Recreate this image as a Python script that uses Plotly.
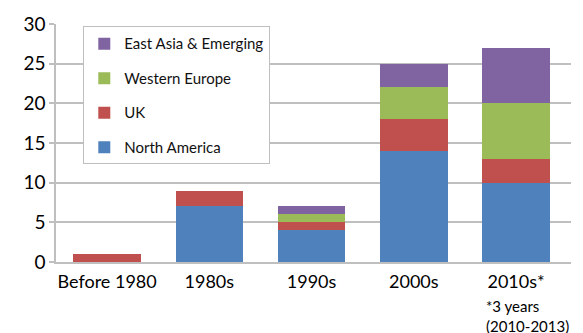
import plotly.graph_objects as go

categories = ["Before 1980", "1980s", "1990s", "2000s", "2010s*"]
north_america = [0, 7, 4, 14, 10]
uk = [1, 2, 1, 4, 3]
western_europe = [0, 0, 1, 4, 7]
east_asia = [0, 0, 1, 3, 7]
footnote = "*3 years<br>(2010-2013)"

series = [
    ("North America", north_america, "#4F81BD"),
    ("UK", uk, "#C0504D"),
    ("Western Europe", western_europe, "#9BBB59"),
    ("East Asia & Emerging", east_asia, "#8064A2"),
]

FONT = "Lato, 'Open Sans', sans-serif"

fig = go.Figure()
for i, (name, vals, color) in enumerate(series):
    fig.add_trace(go.Bar(
        x=categories, y=vals, name=name, legendgroup=name,
        legendrank=1000 - i,
        marker=dict(color=color, line=dict(width=0)),
    ))

fig.update_layout(
    barmode="stack",
    bargap=0.34,
    width=583, height=333,
    margin=dict(l=56, r=12, t=15, b=71),
    paper_bgcolor="white", plot_bgcolor="white",
    font=dict(family=FONT, color="#000000"),
    showlegend=True,
    legend=dict(
        x=0.053, y=0.99, xanchor="left", yanchor="top",
        traceorder="grouped", tracegroupgap=12,
        bgcolor="white", bordercolor="#BFBFBF", borderwidth=1,
        font=dict(size=15, family=FONT, color="#111111"),
        itemwidth=30,
    ),
    xaxis=dict(
        showgrid=False, showline=True, linecolor="#BFBFBF", linewidth=1.5,
        ticks="", tickfont=dict(size=18, family=FONT),
        ticklabelstandoff=3,
    ),
    yaxis=dict(
        range=[0, 30], dtick=5, showgrid=True, gridcolor="#BFBFBF", gridwidth=1.5,
        showline=True, linecolor="#BFBFBF", linewidth=1.5,
        ticks="outside", ticklen=5, tickcolor="#BFBFBF", tickwidth=1.5,
        tickfont=dict(size=19, family=FONT), zeroline=False,
    ),
    annotations=[dict(
        text=footnote, x=categories[-1], y=0, xref="x", yref="y",
        xanchor="left", yanchor="top", xshift=-32, yshift=-33, align="left",
        showarrow=False, font=dict(size=15, family=FONT),
    )],
)

fig.write_html("out.html")
